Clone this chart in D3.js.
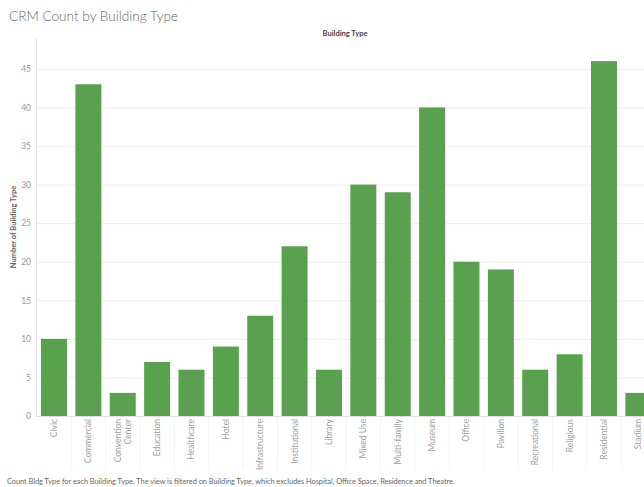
<!DOCTYPE html>
<html><head><meta charset="utf-8">
<script src="https://cdn.jsdelivr.net/npm/d3@7"></script>
<style>body{margin:0;background:#fff;} svg{display:block;}</style>
</head><body>
<script>
const categories = ["Civic","Commercial","Convention Center","Education","Healthcare","Hotel","Infrastructure","Institutional","Library","Mixed Use","Multi-family","Museum","Office","Pavilion","Recreational","Religious","Residential","Stadium"];
const counts = [10,43,3,7,6,9,13,22,6,30,29,40,20,19,6,8,46,3];
const yTicks = [0,5,10,15,20,25,30,35,40,45];

const W = 644, H = 487;
const svg = d3.select("body").append("svg").attr("width", W).attr("height", H);
const font = "Lato, 'Open Sans', sans-serif";

const x = d3.scaleBand().domain(categories).range([36.8, 36.8 + 18*34.375]).paddingInner(0.244).paddingOuter(0.122);
const y = d3.scaleLinear().domain([0, 49]).range([416, 38]);

svg.append("text").attr("x", 9).attr("y", 21).text("CRM Count by Building Type")
  .attr("font-family", font).attr("font-size", 13.6).attr("fill", "#666").attr("font-weight", 300);

svg.append("text").attr("x", 345).attr("y", 36).attr("text-anchor", "middle").text("Building Type")
  .attr("font-family", font).attr("font-size", 7.5).attr("font-weight", "bold").attr("fill", "#444");

// gridlines
svg.append("g").selectAll("line").data(yTicks.filter(d=>d>0)).join("line")
  .attr("x1", 36).attr("x2", W).attr("y1", d=>y(d)+0.5).attr("y2", d=>y(d)+0.5)
  .attr("stroke", "#eeeeee").attr("stroke-width", 1);

// y axis
const yAxis = svg.append("g").attr("transform", "translate(36,0)")
  .call(d3.axisLeft(y).tickValues(yTicks).tickSize(0).tickPadding(5));
yAxis.select(".domain").remove();
yAxis.selectAll("text").attr("font-family", font).attr("font-size", 8.5).attr("fill", "#999");
svg.append("line").attr("x1", 36.5).attr("x2", 36.5).attr("y1", 38).attr("y2", 416).attr("stroke", "#e6e6e6");

svg.append("text").attr("transform", "translate(16," + 227 + ") rotate(-90)").attr("text-anchor", "middle")
  .text("Number of Building Type").attr("font-family", font).attr("font-size", 7.5).attr("font-weight", "bold").attr("fill", "#666");

// bars
svg.append("g").selectAll("rect").data(categories).join("rect")
  .attr("x", d=>x(d)).attr("width", x.bandwidth())
  .attr("y", (d,i)=>y(counts[i])).attr("height", (d,i)=>y(0)-y(counts[i]))
  .attr("fill", "#59A14F");

// baseline
svg.append("line").attr("x1", 36).attr("x2", W).attr("y1", 416.5).attr("y2", 416.5).attr("stroke", "#dddddd");

// dividers
const step = x.step();
svg.append("g").selectAll("line").data(categories.slice(1)).join("line")
  .attr("x1", d=>x(d) - (step - x.bandwidth())/2).attr("x2", d=>x(d) - (step - x.bandwidth())/2)
  .attr("y1", 417).attr("y2", 470).attr("stroke", "#f4f4f4");

// x labels
const xl = svg.append("g").selectAll("text").data(categories).join("text")
  .attr("transform", d => "translate(" + (x(d) + x.bandwidth()/2) + ",419) rotate(-90)")
  .attr("text-anchor", "end").attr("font-family", font).attr("font-size", 8.5).attr("fill", "#a0a0a0");
xl.each(function(d){
  const t = d3.select(this);
  const parts = d === "Convention Center" ? ["Convention","Center"] : [d];
  const n = parts.length;
  parts.forEach((p,i)=>{
    t.append("tspan").attr("x", 0).attr("dy", i===0 ? (3 - (n-1)*5) : 10).text(p);
  });
});

svg.append("text").attr("x", 7).attr("y", 484)
  .text("Count Bldg Type for each Building Type. The view is filtered on Building Type, which excludes Hospital, Office Space, Residence and Theatre.")
  .attr("font-family", font).attr("font-size", 7.33).attr("fill", "#666");
</script>
</body></html>
